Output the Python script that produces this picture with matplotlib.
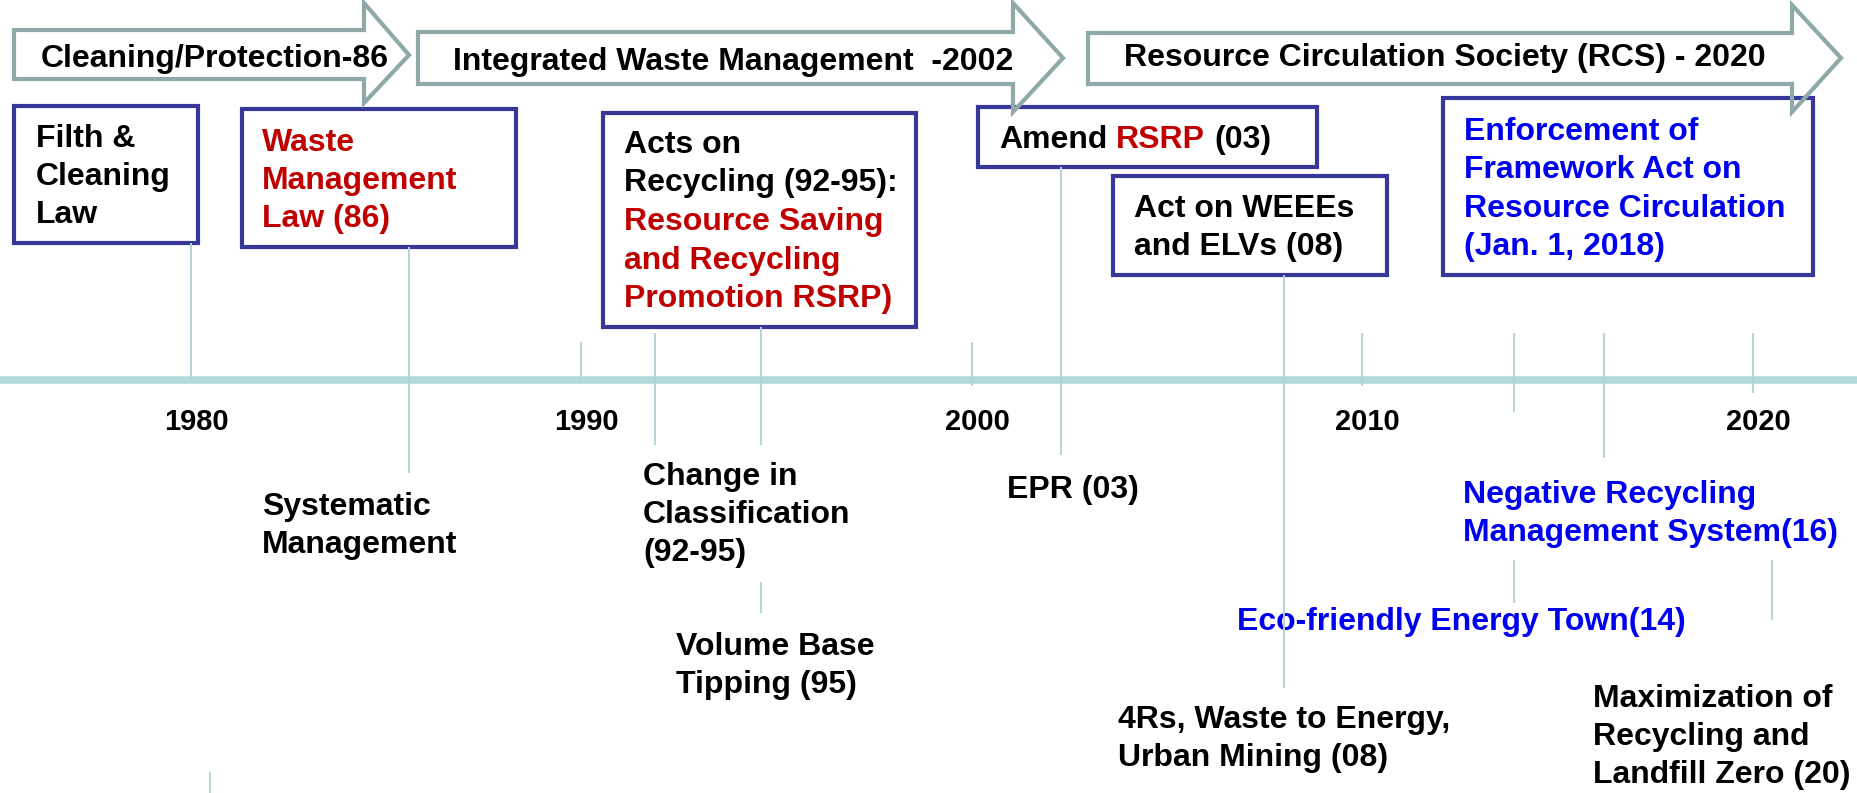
import matplotlib
matplotlib.use('Agg')
import matplotlib.pyplot as plt
from matplotlib.patches import Polygon, Rectangle

plt.rcParams['font.family'] = ['Liberation Sans', 'DejaVu Sans']

# ---- data ----
phase_labels = ["Cleaning/Protection-86",
                "Integrated Waste Management  -2002",
                "Resource Circulation Society (RCS) - 2020"]
decades = [1980, 1990, 2000, 2010, 2020]
# years where the thin event lines sit on the timeline (as drawn)
event_years = [1980.5, 1985.6, 1991.9, 1994.6, 2002.3, 2008.0, 2013.9, 2016.2, 2020.5]

RED = '#c00000'
BLUE = '#0000f0'
BLACK = 'black'

# text in the boxes above the line: list of lines, each a list of (text, colour)
box_texts = [
    [[("Filth &", BLACK)], [("Cleaning", BLACK)], [("Law", BLACK)]],
    [[("Waste", RED)], [("Management", RED)], [("Law (86)", RED)]],
    [[("Acts on", BLACK)], [("Recycling (92-95):", BLACK)], [("Resource Saving", RED)],
     [("and Recycling", RED)], [("Promotion RSRP)", RED)]],
    [[("Amend", BLACK), ("RSRP", RED), ("(03)", BLACK)]],
    [[("Act on WEEEs", BLACK)], [("and ELVs (08)", BLACK)]],
    [[("Enforcement of", BLUE)], [("Framework Act on", BLUE)],
     [("Resource Circulation", BLUE)], [("(Jan. 1, 2018)", BLUE)]],
]

# labels below the line
below_texts = [
    (["Systematic", "Management"], BLACK),
    (["Change in", "Classification", "(92-95)"], BLACK),
    (["Volume Base", "Tipping (95)"], BLACK),
    (["EPR (03)"], BLACK),
    (["Negative Recycling", "Management System(16)"], BLUE),
    (["Eco-friendly Energy Town(14)"], BLUE),
    (["4Rs, Waste to Energy,", "Urban Mining (08)"], BLACK),
    (["Maximization of", "Recycling and", "Landfill Zero (20)"], BLACK),
]

# ---- layout (pixels) ----
W, H = 1858, 793
AXIS_Y = 380
ARROW_C = '#8fa8a8'
BOX_C = '#37379a'
LINE_C = '#b4dadc'
TICK_C = '#b0d6da'

# arrow: left, body top, body bottom, head start, head top, head bottom, tip x, tip y
arrow_geo = [(14, 30, 79, 364, 3, 103, 409, 55),
             (418, 32, 84, 1013, 3, 112, 1063, 58),
             (1088, 33, 84, 1792, 5, 112, 1841, 58)]
arrow_text_pos = [(41, 67), (453, 70), (1124, 66)]

box_geo = [(14, 106, 198, 243), (242, 109, 516, 247), (603, 113, 916, 327),
           (978, 107, 1317, 167), (1113, 176, 1387, 275), (1443, 98, 1813, 275)]
box_text_x = [36, 262, 624, 999, 1134, 1464]
box_text_y0 = [147, 151, 153, 148, 217, 140]
box_step = [38, 38, 38.5, 38, 38, 38.3]

below_pos = [(262, 515), (643, 485), (676, 655), (1007, 498),
             (1463, 503), (1237, 630), (1118, 728), (1593, 707)]
below_step = 38

decade_seg = [(243, 380), (342, 380), (342, 386), (333, 386), (333, 393)]
event_segs = [[(772, 793)], [(247, 473)], [(333, 445)], [(327, 445), (582, 613)],
              [(167, 455)], [(275, 688)], [(333, 412), (560, 603)], [(333, 458)],
              [(560, 620)]]

FS = 23

fig = plt.figure(figsize=(W / 100, H / 100), dpi=100)
lay = fig.add_axes([0, 0, 1, 1])
lay.set_xlim(0, W)
lay.set_ylim(H, 0)
lay.axis('off')

# phase arrows
for (l, t, b, hs, ht, hb, tx, ty), label, (px, py) in zip(arrow_geo, phase_labels, arrow_text_pos):
    pts = [(l, t), (hs, t), (hs, ht), (tx, ty), (hs, hb), (hs, b), (l, b)]
    lay.add_patch(Polygon(pts, closed=True, facecolor='white', edgecolor='none', zorder=1))
    lay.add_patch(Polygon(pts, closed=True, facecolor='none', edgecolor=ARROW_C,
                          lw=3, joinstyle='miter', zorder=4))
    lay.text(px, py, label, fontsize=23, fontweight='bold', ha='left', va='baseline', zorder=5)

# boxes
for (l, t, r, b), lines, x0, y0, step in zip(box_geo, box_texts, box_text_x, box_text_y0, box_step):
    lay.add_patch(Rectangle((l, t), r - l, b - t, facecolor='white', edgecolor=BOX_C,
                            lw=3, zorder=2))
    for i, parts in enumerate(lines):
        y = y0 + i * step
        txt = lay.text(x0, y, parts[0][0], color=parts[0][1], fontsize=FS, fontweight='bold',
                       ha='left', va='baseline', zorder=3)
        for s, c in parts[1:]:
            txt = lay.annotate(s, xy=(1, 0), xycoords=txt, xytext=(6.4, 0),
                               textcoords='offset points', color=c, fontsize=FS,
                               fontweight='bold', ha='left', va='bottom', zorder=3)

# labels below the timeline
for (lines, c), (x0, y0) in zip(below_texts, below_pos):
    for i, s in enumerate(lines):
        lay.text(x0, y0 + i * below_step, s, color=c, fontsize=FS, fontweight='bold',
                 ha='left', va='baseline', zorder=3)

# timeline in years
tl = fig.add_axes([0, 0, 1, 1])
tl.set_xlim(1975.12, 2022.70)
tl.set_ylim(H, 0)
tl.axis('off')
tl.patch.set_alpha(0)

tl.axhline(AXIS_Y, color=LINE_C, lw=5.5, zorder=1)
for d, (y0, y1) in zip(decades, decade_seg):
    tl.vlines(d, y0, y1, color=TICK_C, lw=1.4, zorder=2)
    tl.annotate(str(d), xy=(d, 430), xytext=(4, 0), textcoords='offset points',
                ha='center', va='baseline', fontsize=21, fontweight='bold')
for yr, segs in zip(event_years, event_segs):
    for y0, y1 in segs:
        tl.vlines(yr, y0, y1, color=TICK_C, lw=1.4, zorder=2)

fig.savefig('out.png', dpi=100)
